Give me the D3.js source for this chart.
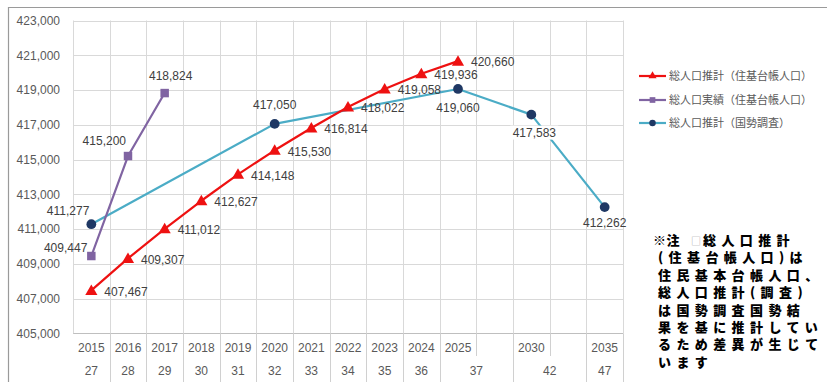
<!DOCTYPE html>
<html><head><meta charset="utf-8">
<script src="https://cdn.jsdelivr.net/npm/d3@7"></script>
<style>body{margin:0;background:#fff}svg{display:block}</style>
</head><body><svg id="c" width="827" height="382"></svg>
<script>
// ---------------- data ----------------
const categories = ["2015","2016","2017","2018","2019","2020","2021","2022","2023","2024","2025","","2030","","2035"];
const eraLabels = ["27","28","29","30","31","32","33","34","35","36","37","42","47"];
const eraSpans  = [1,1,1,1,1,1,1,1,1,1,2,2,1];
const yTicks = [405000,407000,409000,411000,413000,415000,417000,419000,421000,423000];

const seriesNames = ["総人口推計（住基台帳人口）","総人口実績（住基台帳人口）","総人口推計（国勢調査）"];
const estJukiCats = ["2015","2016","2017","2018","2019","2020","2021","2022","2023","2024","2025"];
const estJukiVals = [407467,409307,411012,412627,414148,415530,416814,418022,419058,419936,420660];
const actJukiCats = ["2015","2016","2017"];
const actJukiVals = [409447,415200,418824];
const estCensusCats = ["2015","2020","2025","2030","2035"];
const estCensusVals = [411277,417050,419060,417583,412262];

const noteLines = ["(住基台帳人口)は","住民基本台帳人口、","総人口推計(調査)","は国勢調査国勢結","果を基に推計してい","るため差異が生じて","います"];

// ---------------- layout ----------------
const svg = d3.select("#c");
const L = 73, R = 623, T = 20.5, B = 333.3;
const x = d3.scaleBand().domain(d3.range(categories.length)).range([L, R]).padding(0);
const bw = x.bandwidth();
const cx = c => x(categories.indexOf(c)) + bw / 2;
const y = d3.scaleLinear().domain([405000, 423000]).range([B, T]);
const fmt = d3.format(",");
const numFont = "'Liberation Sans', Arial, sans-serif";
const cjkFont = "'Noto Sans CJK JP', 'Noto Sans CJK SC', sans-serif";

svg.append("rect").attr("width", 827).attr("height", 382).attr("fill", "#fff");
// frame
svg.append("path").attr("d", "M8.5,382V7.5H827").attr("fill", "none").attr("stroke", "#9a9a9a").attr("stroke-width", 1.2);

// grid
const g = svg.append("g");
g.selectAll("line.h").data(yTicks).join("line")
  .attr("x1", L).attr("x2", R).attr("y1", d => Math.round(y(d)) + 0.5).attr("y2", d => Math.round(y(d)) + 0.5)
  .attr("stroke", d => d === 405000 ? "#bfbfbf" : "#d9d9d9").attr("stroke-width", 1);
g.selectAll("line.v").data(d3.range(categories.length + 1)).join("line")
  .attr("x1", i => Math.round(L + i * bw) + 0.5).attr("x2", i => Math.round(L + i * bw) + 0.5)
  .attr("y1", T).attr("y2", B).attr("stroke", "#d9d9d9");

// y axis labels
const yAxis = d3.axisLeft(y).tickValues(yTicks).tickFormat(fmt).tickSize(0).tickPadding(0);
const ya = svg.append("g").attr("transform", "translate(60,0)").call(yAxis);
ya.select(".domain").remove();
ya.selectAll("text").attr("font-family", numFont).attr("font-size", 12).attr("fill", "#595959");

// x axis: two levels
const xa = svg.append("g");
xa.selectAll("text.c").data(categories).join("text")
  .attr("x", (d, i) => x(i) + bw / 2).attr("y", 348).attr("dy", "0.35em")
  .attr("text-anchor", "middle").attr("font-family", numFont).attr("font-size", 12).attr("fill", "#595959")
  .text(d => d);
const groupBounds = [0];
eraSpans.forEach(s => groupBounds.push(groupBounds[groupBounds.length - 1] + s));
const eraData = eraLabels.map((lab, i) => ({lab, a: groupBounds[i], b: groupBounds[i + 1]}));
xa.selectAll("text.e").data(eraData).join("text")
  .attr("x", d => L + (d.a + d.b) / 2 * bw).attr("y", 371).attr("dy", "0.35em")
  .attr("text-anchor", "middle").attr("font-family", numFont).attr("font-size", 12).attr("fill", "#595959")
  .text(d => d.lab);
xa.selectAll("line.s").data(d3.range(1, categories.length + 1)).join("line")
  .attr("x1", i => Math.round(L + i * bw) + 0.5).attr("x2", i => Math.round(L + i * bw) + 0.5)
  .attr("y1", B).attr("y2", i => groupBounds.includes(i) ? 382 : 356)
  .attr("stroke", "#d0d0d0");

// series
const colors = {red: "#ee1111", purple: "#8064a2", teal: "#4bacc6", navy: "#1f3864"};
const series = [
  {cats: estJukiCats, vals: estJukiVals, line: colors.red, fill: colors.red, sym: d3.symbolTriangle, size: 64},
  {cats: actJukiCats, vals: actJukiVals, line: colors.purple, fill: colors.purple, sym: d3.symbolSquare, size: 72},
  {cats: estCensusCats, vals: estCensusVals, line: colors.teal, fill: colors.navy, sym: d3.symbolCircle, size: 75}
];
const lineGen = d3.line().x(d => cx(d.c)).y(d => y(d.v));
series.forEach(s => { s.pts = s.cats.map((c, i) => ({c, v: s.vals[i]})); });
[2, 1, 0].forEach(k => {
  const s = series[k];
  svg.append("path").datum(s.pts).attr("d", lineGen).attr("fill", "none")
    .attr("stroke", s.line).attr("stroke-width", 2.2).attr("stroke-linejoin", "round");
  svg.append("g").selectAll("path").data(s.pts).join("path")
    .attr("transform", d => `translate(${cx(d.c)},${y(d.v) + (s.sym === d3.symbolTriangle ? 1 : 0)})`)
    .attr("d", d3.symbol().type(s.sym).size(s.size)).attr("fill", s.fill);
});

// data labels (anchor, dx, dy relative to point, white backing)
const labelPlace = [
  estJukiVals.map(() => ["start", 13, 1, false]),
  [["end", -4, -8, false], ["end", -2, -15, false], ["middle", 6, -17, false]],
  [["end", -2, -13, false], ["middle", 0, -19, false], ["middle", 0, 19, false], ["middle", 3, 18, true], ["middle", 0, 16, false]]
];
const lab = svg.append("g");
series.forEach((s, k) => {
  s.pts.forEach((p, i) => {
    const [anc, dx, dy, bg] = labelPlace[k][i];
    const tx = cx(p.c) + dx, ty = y(p.v) + dy;
    if (bg) {
      lab.append("rect").attr("x", tx - 24).attr("y", ty - 7).attr("width", 48).attr("height", 14).attr("fill", "#fff");
    }
    lab.append("text").attr("x", tx).attr("y", ty).attr("dy", "0.35em").attr("text-anchor", anc)
      .attr("font-family", numFont).attr("font-size", 12).attr("fill", "#404040").text(fmt(p.v));
  });
});

// legend
const legY = [76, 100, 123];
const leg = svg.append("g");
series.forEach((s, k) => {
  leg.append("line").attr("x1", 639).attr("x2", 666).attr("y1", legY[k]).attr("y2", legY[k])
    .attr("stroke", s.line).attr("stroke-width", 2.2);
  leg.append("path").attr("transform", `translate(652.5,${legY[k]})`)
    .attr("d", d3.symbol().type(s.sym).size(s.size * 0.45)).attr("fill", s.fill);
  leg.append("text").attr("x", 669).attr("y", legY[k]).attr("dy", "0.35em")
    .attr("font-family", cjkFont).attr("font-size", 11).attr("fill", "#595959").text(seriesNames[k]);
});

// note (multi-line)
const noteSize = 13, notePitch = 17.4, noteLS = 5.4;
const note = svg.append("g").attr("font-family", cjkFont).attr("font-weight", 900)
  .attr("font-size", noteSize).attr("fill", "#000");
const n1 = note.append("text").attr("y", 240).attr("dy", "0.38em");
n1.append("tspan").attr("x", 653).attr("letter-spacing", 0.5).text("※注");
n1.append("tspan").attr("x", 691).attr("font-size", 10).attr("font-weight", 300).attr("fill", "#999").text("□");
n1.append("tspan").attr("x", 703).attr("letter-spacing", noteLS).text("総人口推計");
noteLines.forEach((t, i) => {
  note.append("text").attr("x", 658).attr("y", 240 + (i + 1) * notePitch).attr("dy", "0.38em")
    .attr("letter-spacing", noteLS).text(t);
});
</script></body></html>
